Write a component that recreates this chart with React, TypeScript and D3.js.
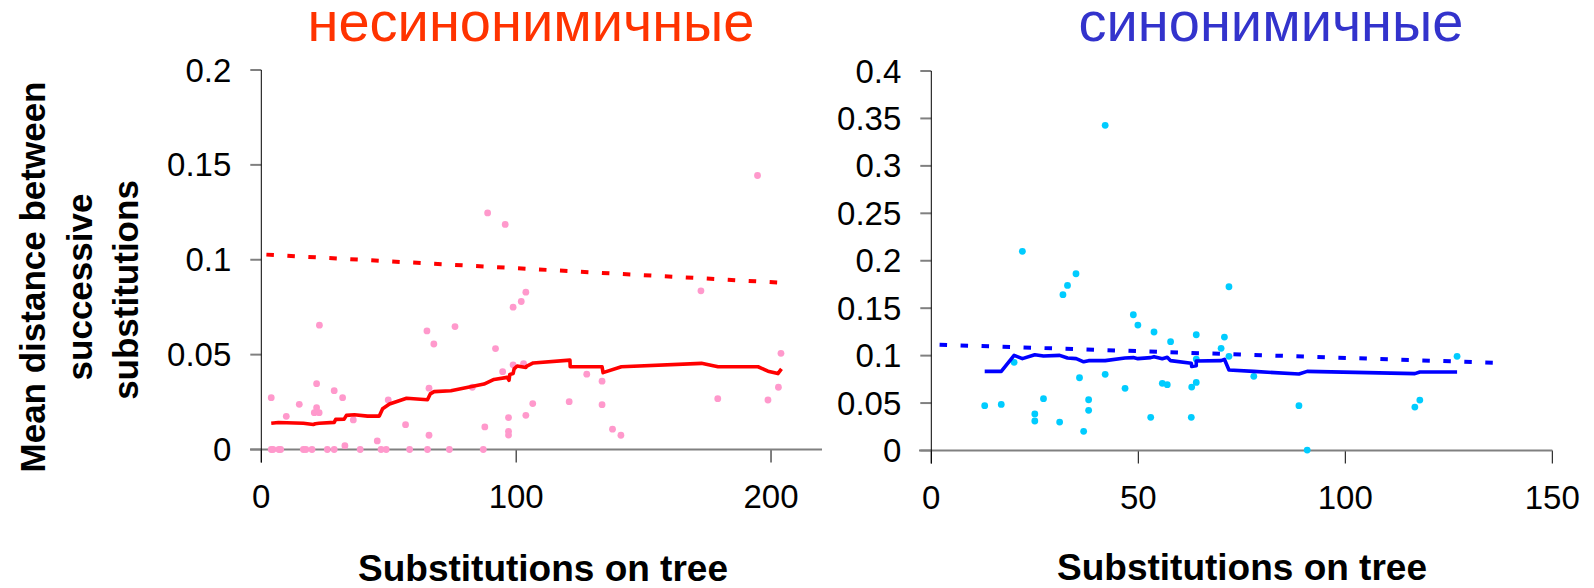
import React from "react";
import * as d3 from "d3";

// ---------- DATA ----------
const leftTitle = "несинонимичные";
const rightTitle = "синонимичные";
const xAxisTitle = "Substitutions on tree";
const yTitleLines = ["Mean distance between", "successive", "substitutions"];

const leftXTicks = [0, 100, 200];
const leftYTicks = [0, 0.05, 0.1, 0.15, 0.2];
const rightXTicks = [0, 50, 100, 150];
const rightYTicks = [0, 0.05, 0.1, 0.15, 0.2, 0.25, 0.3, 0.35, 0.4];

// nonsynonymous scatter points [substitutions, mean distance]
const nonsynPoints: [number, number][] = [
  [88.8, 0.1247], [95.7, 0.1186], [194.7, 0.1444], [22.8, 0.0655], [65, 0.0625],
  [67.7, 0.0556], [76, 0.0648], [91.9, 0.0532], [98.8, 0.075], [102, 0.078],
  [103.8, 0.0829], [172.5, 0.0836], [98.8, 0.0446], [94.7, 0.041], [102.9, 0.0453],
  [82.8, 0.0328], [65.8, 0.0323], [49.8, 0.0261], [21.7, 0.0347], [28.6, 0.031],
  [31.9, 0.0273], [3.9, 0.0273], [14.9, 0.0238], [9.8, 0.0175], [21.7, 0.022],
  [20.8, 0.0194], [22.7, 0.0194], [36.1, 0.0156], [56.6, 0.0131], [87.7, 0.0119],
  [97, 0.0168], [97, 0.0096], [97, 0.0076], [65.8, 0.0075], [45.5, 0.0045],
  [32.8, 0.002], [127.7, 0.0397], [133.7, 0.036], [203.9, 0.0507], [202.9, 0.0328],
  [198.8, 0.0261], [179.1, 0.0268], [106.5, 0.0242], [120.8, 0.0252], [133.7, 0.0236],
  [103.8, 0.018], [137.8, 0.0107], [141.1, 0.0075],
  [3.9, 0], [4.6, 0], [6.9, 0], [7.6, 0], [16.5, 0], [17.5, 0], [19.9, 0], [25.9, 0],
  [28.6, 0], [38.8, 0], [47, 0], [49, 0], [58.2, 0], [65.2, 0], [73.8, 0], [87.1, 0],
];

// nonsynonymous running mean
const nonsynMean: [number, number][] = [
  [3.9, 0.0138], [6.7, 0.0142], [16.5, 0.0138], [20.4, 0.0132], [21.2, 0.0136],
  [22.7, 0.0138], [28.6, 0.0143], [29.2, 0.0159], [32.5, 0.016], [33.4, 0.018],
  [36.5, 0.0183], [41.7, 0.0176], [46.3, 0.0176], [47.6, 0.0215], [50.3, 0.024],
  [57, 0.027], [65.2, 0.0262], [66.3, 0.0293], [67.8, 0.0305], [74.4, 0.031],
  [87.4, 0.0345], [91.3, 0.0369], [96.5, 0.038], [97.2, 0.0365], [97.5, 0.0395],
  [98.8, 0.04], [99.2, 0.0425], [100.4, 0.044], [102.1, 0.0436], [103.8, 0.0432],
  [104.2, 0.044], [106.7, 0.0456], [121.1, 0.0471], [121.2, 0.0436], [133.7, 0.0436],
  [134.1, 0.0405], [141.3, 0.0436], [172.7, 0.0454], [179.2, 0.0436], [194.9, 0.0436],
  [198.8, 0.0413], [202.7, 0.04], [204.1, 0.0425],
];

// nonsynonymous expected (dashed)
const nonsynExpected: [number, number][] = [[2, 0.1027], [203, 0.088]];

// synonymous scatter points
const synPoints: [number, number][] = [
  [42, 0.3427], [22, 0.2099], [34.95, 0.1863], [32.9, 0.174], [31.8, 0.1642],
  [48.8, 0.1431], [49.9, 0.1322], [53.8, 0.1249], [57.8, 0.1147], [64, 0.122],
  [70.8, 0.1196], [70, 0.1077], [64, 0.0964], [20, 0.0929], [35.8, 0.0767],
  [42, 0.0803], [46.8, 0.0655], [55.8, 0.0708], [57, 0.0694], [62.9, 0.0669],
  [64, 0.0718], [12.9, 0.0472], [16.9, 0.0486], [27.1, 0.0546], [25, 0.0385],
  [25, 0.0311], [31, 0.03], [38, 0.0535], [38, 0.0423], [36.8, 0.0202],
  [53, 0.035], [62.8, 0.035], [71.9, 0.1726], [71.9, 0.0993], [77.9, 0.0782],
  [88.8, 0.0472], [90.8, 0.0005], [118, 0.0532], [116.8, 0.0458], [127, 0.0993],
];

// synonymous running mean
const synMean: [number, number][] = [
  [12.9, 0.0834], [16.9, 0.0834], [20, 0.1003], [22, 0.0968], [25, 0.101],
  [27.1, 0.0996], [31, 0.1003], [32.9, 0.0975], [35, 0.0968], [36.8, 0.0935],
  [38, 0.0947], [42, 0.0947], [46.8, 0.0975], [48.8, 0.0979], [49.9, 0.0968],
  [53, 0.0979], [53.8, 0.0989], [55.8, 0.0968], [57, 0.0982], [57.8, 0.0947],
  [62.8, 0.0919], [62.9, 0.0886], [64, 0.0893], [64, 0.0943], [70, 0.0947],
  [70.8, 0.0961], [71.9, 0.0848], [77.9, 0.0834], [88.8, 0.0806], [90.8, 0.0834],
  [116.8, 0.081], [118, 0.0827], [127, 0.0827],
];

// synonymous expected (dashed)
const synExpected: [number, number][] = [[2, 0.1115], [136, 0.0925]];

// ---------- RENDER ----------
const FONT = "'Liberation Sans', Arial, Helvetica, sans-serif";

type PanelProps = {
  x0: number; x1: number; y0: number; y1: number;
  xMax: number; yMax: number;
  xTicks: number[]; yTicks: number[];
  points: [number, number][]; mean: [number, number][]; expected: [number, number][];
  dotColor: string; lineColor: string;
  axisStart: number;
};

function Panel(p: PanelProps) {
  const x = d3.scaleLinear().domain([0, p.xMax]).range([p.x0, p.x1]);
  const y = d3.scaleLinear().domain([0, p.yMax]).range([p.y0, p.y1]);
  const line = d3.line<[number, number]>().x((d) => x(d[0])).y((d) => y(d[1]));
  const fmt = (v: number) => (v === 0 ? "0" : String(+v.toFixed(2)));
  return (
    <g>
      {/* y ticks */}
      {p.yTicks.map((t) => (
        <g key={"y" + t}>
          <line x1={p.x0 - 11} x2={p.x0} y1={y(t)} y2={y(t)} stroke="#808080" strokeWidth={2} />
          <text x={p.x0 - 30} y={y(t)} dy="0.35em" textAnchor="end" fontSize={33} fontFamily={FONT} fill="#000">
            {fmt(t)}
          </text>
        </g>
      ))}
      {/* x ticks */}
      {p.xTicks.map((t) => (
        <g key={"x" + t}>
          <line x1={x(t)} x2={x(t)} y1={p.y0} y2={p.y0 + 13} stroke="#000" strokeWidth={1} />
          <text x={x(t)} y={p.y0 + 58} dy="0" textAnchor="middle" fontSize={33} fontFamily={FONT} fill="#000">
            {t}
          </text>
        </g>
      ))}
      {/* axes */}
      <line x1={p.axisStart} x2={p.x1} y1={p.y0} y2={p.y0} stroke="#808080" strokeWidth={2} />
      <line x1={p.x0} x2={p.x0} y1={p.y1} y2={p.y0 + 13} stroke="#000" strokeWidth={1} />
      {/* points */}
      {p.points.map((d, i) => (
        <circle key={i} cx={x(d[0])} cy={y(d[1])} r={3.4} fill={p.dotColor} />
      ))}
      {/* running mean */}
      <path d={line(p.mean) || ""} fill="none" stroke={p.lineColor} strokeWidth={3.6} strokeLinejoin="round" />
      {/* expected */}
      <path d={line(p.expected) || ""} fill="none" stroke={p.lineColor} strokeWidth={4} strokeDasharray="7.5 13.5" />
    </g>
  );
}

export default function App() {
  return (
    <svg width={1594} height={588} style={{ position: "absolute", left: 0, top: 0, background: "#fff" }}>
      <rect x={0} y={0} width={1594} height={588} fill="#fff" />
      <text x={531} y={41} textAnchor="middle" fontSize={56} fontFamily={FONT} fill="#FF3300">{leftTitle}</text>
      <text x={1271} y={41} textAnchor="middle" fontSize={56} fontFamily={FONT} fill="#3333CC">{rightTitle}</text>

      {yTitleLines.map((t, i) => (
        <text key={t}
          transform={`translate(${[45, 91.5, 138][i]},${[277, 287, 290][i]}) rotate(-90)`}
          textAnchor="middle" fontSize={35} fontWeight="bold" fontFamily={FONT} fill="#000">
          {t}
        </text>
      ))}

      <Panel x0={261.3} x1={822} y0={449.5} y1={70} xMax={220} yMax={0.2}
        xTicks={leftXTicks} yTicks={leftYTicks}
        points={nonsynPoints} mean={nonsynMean} expected={nonsynExpected}
        dotColor="#FF99CC" lineColor="#FF0000" axisStart={250} />
      <Panel x0={931.3} x1={1552.3} y0={450.5} y1={71} xMax={150} yMax={0.4}
        xTicks={rightXTicks} yTicks={rightYTicks}
        points={synPoints} mean={synMean} expected={synExpected}
        dotColor="#00CCFF" lineColor="#0000FF" axisStart={919} />

      <text x={543} y={581} textAnchor="middle" fontSize={37} fontWeight="bold" fontFamily={FONT} fill="#000">{xAxisTitle}</text>
      <text x={1242} y={580} textAnchor="middle" fontSize={37} fontWeight="bold" fontFamily={FONT} fill="#000">{xAxisTitle}</text>
    </svg>
  );
}
